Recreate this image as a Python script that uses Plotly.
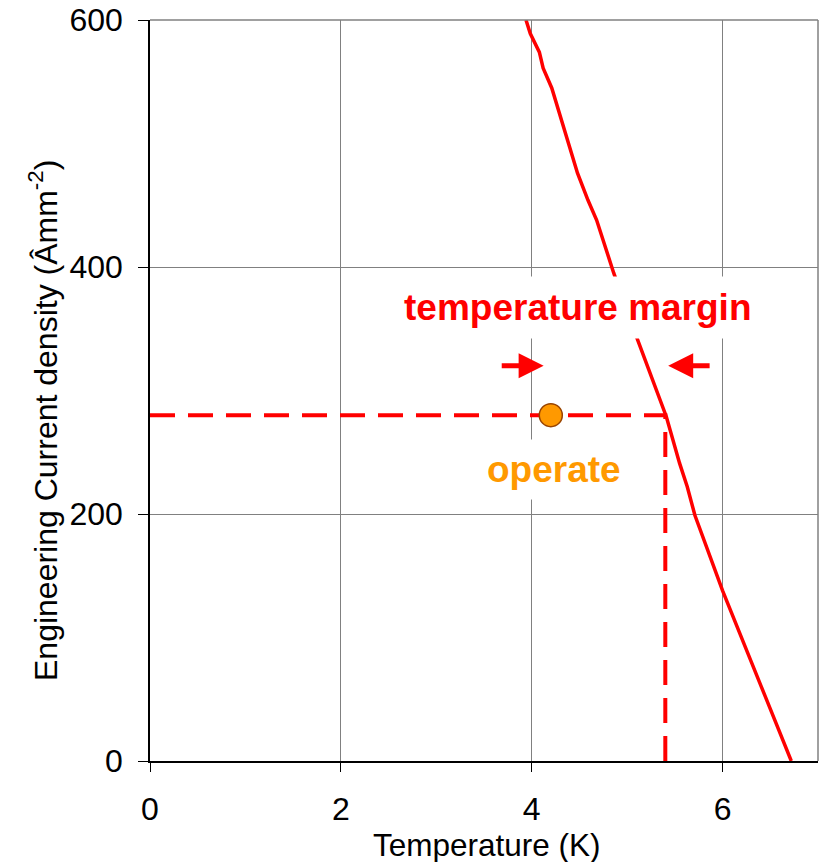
import plotly.graph_objects as go

# Critical line (temperature vs engineering current density)
crit_T = [3.94, 3.985, 4.08, 4.12, 4.21, 4.28, 4.33, 4.41, 4.48, 4.59, 4.68, 4.86,
          5.11, 5.41, 5.55, 5.63, 5.71, 6.00, 6.72]
crit_J = [600, 589, 574, 561, 545, 527, 514, 492, 476, 454, 438, 395,
          341, 279, 241, 222, 199, 138, 0]

# Operating point
op_T = [4.2]
op_J = [280]

# Margin guide lines
guide_T = [0, 5.4, 5.4]
guide_J = [280, 280, 0]

# Arrows (tail -> tip)
arrow_right = {"tail": (3.67, 320), "tip": (4.125, 320)}
arrow_left = {"tail": (5.88, 320), "tip": (5.43, 320)}

x_ticks = [0, 2, 4, 6]
y_ticks = [0, 200, 400, 600]

FONT = "Liberation Sans, Arial, sans-serif"

fig = go.Figure()

fig.add_trace(go.Scatter(x=guide_T, y=guide_J, mode="lines",
                         line=dict(color="#FF0000", width=4, dash="25px,13px"),
                         hoverinfo="skip"))
fig.add_trace(go.Scatter(x=crit_T, y=crit_J, mode="lines",
                         line=dict(color="#FF0000", width=3.5), hoverinfo="skip"))
fig.add_trace(go.Scatter(x=op_T, y=op_J, mode="markers",
                         marker=dict(size=23, color="#FF9900",
                                     line=dict(color="#994400", width=1.5)),
                         hoverinfo="skip"))

annotations = [
    dict(x=4.48, y=367, xref="x", yref="y", text="<b>temperature margin</b>",
         showarrow=False, font=dict(family=FONT, size=37, color="#FF0000"),
         bgcolor="white", borderpad=10),
    dict(x=4.235, y=236, xref="x", yref="y", text="<b>operate</b>",
         showarrow=False, font=dict(family=FONT, size=37, color="#FF9900"),
         bgcolor="white", borderpad=9),
    dict(x=0.505, y=-0.113, xref="paper", yref="paper", text="Temperature (K)",
         showarrow=False, font=dict(family=FONT, size=31.5, color="black"),
         xanchor="center", yanchor="middle"),
    dict(x=-0.16, y=0.459, xref="paper", yref="paper",
         text="Engineering Current density (Âmm<sup>-2</sup>)", textangle=-90,
         showarrow=False, font=dict(family=FONT, size=32, color="black"),
         xanchor="center", yanchor="middle"),
]
for arr in (arrow_right, arrow_left):
    annotations.append(dict(x=arr["tip"][0], y=arr["tip"][1], ax=arr["tail"][0], ay=arr["tail"][1],
                            xref="x", yref="y", axref="x", ayref="y", text="",
                            showarrow=True, arrowhead=2, arrowsize=1, arrowwidth=5,
                            arrowcolor="#FF0000"))

fig.update_layout(
    width=821, height=862,
    margin=dict(l=150, r=3, t=20, b=101, autoexpand=False),
    paper_bgcolor="white", plot_bgcolor="white",
    showlegend=False,
    font=dict(family=FONT, size=32, color="black"),
    annotations=annotations,
    shapes=[
        dict(type="line", xref="paper", yref="paper", x0=0, x1=1, y0=1, y1=1,
             line=dict(color="#808080", width=1.5)),
        dict(type="line", xref="paper", yref="paper", x0=1, x1=1, y0=0, y1=1,
             line=dict(color="#808080", width=1.5)),
    ],
)
fig.update_xaxes(range=[0, 7], tickvals=x_ticks, showgrid=True, gridcolor="#808080", gridwidth=1,
                 zeroline=False, showline=True, linecolor="black", linewidth=1.5,
                 ticks="outside", ticklen=9, tickcolor="black", automargin=False,
                 tickfont=dict(size=32), ticklabelstandoff=10)
fig.update_yaxes(range=[0, 600], tickvals=y_ticks, showgrid=True, gridcolor="#808080", gridwidth=1,
                 zeroline=False, showline=True, linecolor="black", linewidth=1.5,
                 ticks="outside", ticklen=10, tickcolor="black", automargin=False,
                 tickfont=dict(size=32), ticklabelstandoff=9)

fig.write_html("out.html", config={"displayModeBar": False},
               post_script="document.body.style.margin='0';document.body.style.overflow='hidden';")
